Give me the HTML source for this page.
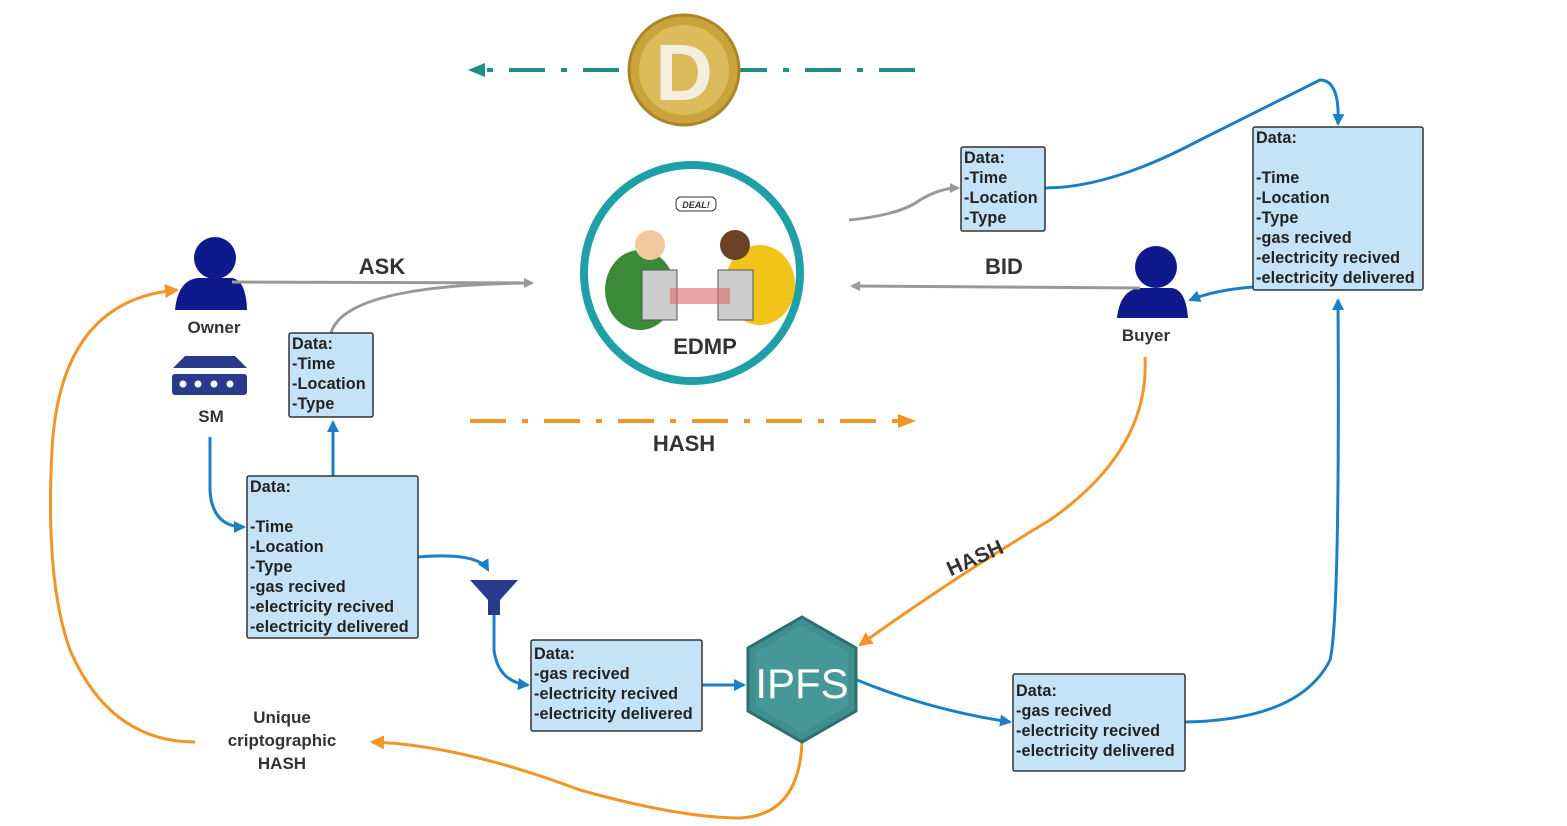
<!DOCTYPE html>
<html><head><meta charset="utf-8"><style>
body{margin:0;background:#fff}
svg{display:block}
text{font-family:"Liberation Sans",sans-serif;font-weight:bold;fill:#333}
.bx{fill:#c5e3f6;stroke:#333;stroke-width:1.5}
.bt{font-size:16.2px;fill:#222;letter-spacing:0.1px}
</style></head><body>
<svg width="1567" height="826" viewBox="0 0 1567 826" xmlns="http://www.w3.org/2000/svg">
<defs>
<marker id="ag" markerWidth="10" markerHeight="10" refX="8" refY="5" orient="auto" markerUnits="userSpaceOnUse"><path d="M0,0 L10,5 L0,10 z" fill="#999"/></marker>
<marker id="ab" markerWidth="12" markerHeight="12" refX="10" refY="6" orient="auto" markerUnits="userSpaceOnUse"><path d="M0,0 L12,6 L0,12 z" fill="#1a7fc4"/></marker>
<marker id="ao" markerWidth="14" markerHeight="14" refX="12" refY="7" orient="auto" markerUnits="userSpaceOnUse"><path d="M0,0 L14,7 L0,14 z" fill="#f29427"/></marker>
</defs>

<line x1="915" y1="70" x2="478" y2="70" stroke="#1e8f80" stroke-width="4" stroke-dasharray="36,16,6,16"/>
<path d="M485,63 L468,70 L485,77 z" fill="#1e8f80"/>
<circle cx="684" cy="70" r="55" fill="#c9a43a" stroke="#a8862a" stroke-width="3"/>
<circle cx="684" cy="70" r="45" fill="#dcbb5a"/>
<text x="684" y="100" font-size="80" text-anchor="middle" style="fill:#f4eee0">D</text>

<line x1="470" y1="421" x2="900" y2="421" stroke="#f29427" stroke-width="4" stroke-dasharray="36,16,6,16"/>
<path d="M898,414 L916,421 L898,428 z" fill="#f29427"/>
<text x="684" y="451" font-size="22" text-anchor="middle">HASH</text>

<circle cx="692" cy="273" r="108" fill="#fff" stroke="#1fa0a8" stroke-width="8"/>
<ellipse cx="640" cy="290" rx="35" ry="40" fill="#3b8a3a"/>
<circle cx="650" cy="245" r="15" fill="#f1c9a0"/>
<ellipse cx="760" cy="285" rx="35" ry="40" fill="#f0c419"/>
<circle cx="735" cy="245" r="15" fill="#6b4226"/>
<rect x="642" y="270" width="35" height="50" fill="#ccc" stroke="#555"/>
<rect x="718" y="270" width="35" height="50" fill="#ccc" stroke="#555"/>
<rect x="670" y="288" width="60" height="16" fill="#d66" opacity=".6"/>
<rect x="676" y="197" width="40" height="14" rx="5" fill="#fff" stroke="#333"/>
<text x="696" y="208" font-size="9" text-anchor="middle" font-style="italic">DEAL!</text>
<text x="705" y="354" font-size="22" text-anchor="middle">EDMP</text>

<circle cx="215" cy="258" r="21" fill="#0e1a8c"/>
<path d="M175,310 Q178,280 198,278 L232,278 Q246,280 247,310 z" fill="#0e1a8c"/>
<text x="214" y="333" font-size="17" text-anchor="middle">Owner</text>
<path d="M185,356 L235,356 L247,368 L173,368 z" fill="#2a3a8c"/>
<rect x="172" y="374" width="75" height="21" rx="3" fill="#2a3a8c"/>
<circle cx="183" cy="384" r="3.5" fill="#fff"/><circle cx="198" cy="384" r="3.5" fill="#fff"/><circle cx="214" cy="384" r="3.5" fill="#fff"/><circle cx="230" cy="384" r="3.5" fill="#fff"/>
<text x="211" y="422" font-size="17" text-anchor="middle">SM</text>

<circle cx="1156" cy="267" r="21" fill="#0e1a8c"/>
<path d="M1117,318 Q1120,290 1140,288 L1172,288 Q1186,290 1188,318 z" fill="#0e1a8c"/>
<text x="1146" y="341" font-size="17" text-anchor="middle">Buyer</text>

<line x1="232" y1="282" x2="532" y2="283" stroke="#999" stroke-width="3" marker-end="url(#ag)"/>
<path d="M331,333 Q345,285 530,283" fill="none" stroke="#999" stroke-width="3"/>
<text x="382" y="274" font-size="22" text-anchor="middle">ASK</text>
<line x1="1140" y1="288" x2="852" y2="286" stroke="#999" stroke-width="3" marker-end="url(#ag)"/>
<text x="1004" y="274" font-size="22" text-anchor="middle">BID</text>
<path d="M849,220 Q900,215 920,200 Q940,188 958,188" fill="none" stroke="#999" stroke-width="3" marker-end="url(#ag)"/>

<path d="M210,437 L210,490 Q212,527 244,527" fill="none" stroke="#1a7fc4" stroke-width="3" marker-end="url(#ab)"/>
<line x1="333" y1="476" x2="333" y2="422" stroke="#1a7fc4" stroke-width="3" marker-end="url(#ab)"/>
<path d="M418,557 Q478,552 488,570" fill="none" stroke="#1a7fc4" stroke-width="3" marker-end="url(#ab)"/>
<path d="M470,580 L518,580 L500,600 L500,615 L488,615 L488,600 z" fill="#2a3a8c"/>
<path d="M494,615 L494,650 Q498,682 528,685" fill="none" stroke="#1a7fc4" stroke-width="3" marker-end="url(#ab)"/>
<line x1="702" y1="685" x2="744" y2="685" stroke="#1a7fc4" stroke-width="3" marker-end="url(#ab)"/>
<path d="M857,680 Q930,710 1010,722" fill="none" stroke="#1a7fc4" stroke-width="3" marker-end="url(#ab)"/>
<path d="M1185,722 Q1300,720 1330,660 Q1340,620 1338,300" fill="none" stroke="#1a7fc4" stroke-width="3" marker-end="url(#ab)"/>
<path d="M1045,188 Q1110,188 1200,140 Q1290,95 1320,80 Q1340,80 1338,124" fill="none" stroke="#1a7fc4" stroke-width="3" marker-end="url(#ab)"/>
<path d="M1253,287 Q1215,290 1190,300" fill="none" stroke="#1a7fc4" stroke-width="3" marker-end="url(#ab)"/>

<path d="M1145,357 Q1150,450 1050,520 Q950,580 860,645" fill="none" stroke="#f29427" stroke-width="3" marker-end="url(#ao)"/>
<text x="975" y="565" font-size="21" text-anchor="middle" transform="rotate(-24 975 558)">HASH</text>
<path d="M802,740 Q800,815 740,818 Q680,818 580,790 Q460,745 372,742" fill="none" stroke="#f29427" stroke-width="3" marker-end="url(#ao)"/>
<path d="M195,742 Q110,742 70,650 Q45,580 52,450 Q60,300 177,290" fill="none" stroke="#f29427" stroke-width="3" marker-end="url(#ao)"/>
<text x="282" y="723" font-size="17" text-anchor="middle">Unique</text>
<text x="282" y="746" font-size="17" text-anchor="middle">criptographic</text>
<text x="282" y="769" font-size="17" text-anchor="middle">HASH</text>

<polygon points="802,617 856,648 856,711 802,742 748,711 748,648" fill="#3f8f8f" stroke="#2e6f6f" stroke-width="3"/>
<polygon points="802,625 848,652 848,706 802,733 756,706 756,652" fill="#469797"/>
<text x="802" y="698" font-size="42" text-anchor="middle" style="fill:#fff;font-weight:normal">IPFS</text>

<rect class="bx" x="289" y="333" width="84" height="84" rx="2"/>
<text class="bt" x="292" y="349">Data:</text><text class="bt" x="292" y="369">-Time</text><text class="bt" x="292" y="389">-Location</text><text class="bt" x="292" y="409">-Type</text>

<rect class="bx" x="247" y="476" width="171" height="162" rx="2"/>
<text class="bt" x="250" y="492">Data:</text><text class="bt" x="250" y="532">-Time</text><text class="bt" x="250" y="552">-Location</text><text class="bt" x="250" y="572">-Type</text><text class="bt" x="250" y="592">-gas recived</text><text class="bt" x="250" y="612">-electricity recived</text><text class="bt" x="250" y="632">-electricity delivered</text>

<rect class="bx" x="531" y="640" width="171" height="91" rx="2"/>
<text class="bt" x="534" y="659">Data:</text><text class="bt" x="534" y="679">-gas recived</text><text class="bt" x="534" y="699">-electricity recived</text><text class="bt" x="534" y="719">-electricity delivered</text>

<rect class="bx" x="1013" y="674" width="172" height="97" rx="2"/>
<text class="bt" x="1016" y="696">Data:</text><text class="bt" x="1016" y="716">-gas recived</text><text class="bt" x="1016" y="736">-electricity recived</text><text class="bt" x="1016" y="756">-electricity delivered</text>

<rect class="bx" x="961" y="147" width="84" height="84" rx="2"/>
<text class="bt" x="964" y="163">Data:</text><text class="bt" x="964" y="183">-Time</text><text class="bt" x="964" y="203">-Location</text><text class="bt" x="964" y="223">-Type</text>

<rect class="bx" x="1253" y="127" width="170" height="163" rx="2"/>
<text class="bt" x="1256" y="143">Data:</text><text class="bt" x="1256" y="183">-Time</text><text class="bt" x="1256" y="203">-Location</text><text class="bt" x="1256" y="223">-Type</text><text class="bt" x="1256" y="243">-gas recived</text><text class="bt" x="1256" y="263">-electricity recived</text><text class="bt" x="1256" y="283">-electricity delivered</text>
</svg>
</body></html>
